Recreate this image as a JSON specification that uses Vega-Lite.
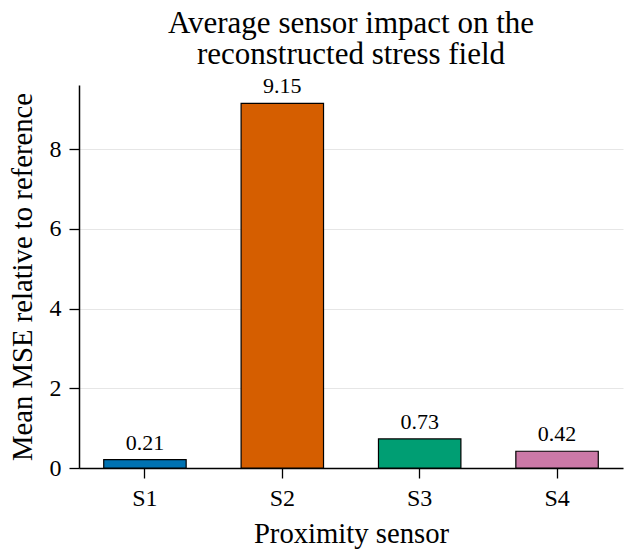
{
  "$schema": "https://vega.github.io/schema/vega-lite/v6.json",
  "autosize": "none",
  "width": 544,
  "height": 383,
  "padding": {"left": 79, "top": 85, "right": 10, "bottom": 88},
  "background": "white",
  "config": {
    "font": "Liberation Serif",
    "view": {"stroke": null},
    "title": {"font": "Liberation Serif", "fontSize": 31, "fontWeight": "normal", "color": "black", "lineHeight": 31, "baseline": "alphabetic", "offset": 4, "anchor": "middle"}
  },
  "title": {"text": ["Average sensor impact on the", "reconstructed stress field"]},
  "data": {
    "values": [
      {"sensor": "S1", "mse": 0.21},
      {"sensor": "S2", "mse": 9.15},
      {"sensor": "S3", "mse": 0.73},
      {"sensor": "S4", "mse": 0.42}
    ]
  },
  "encoding": {
    "x": {
      "field": "sensor",
      "type": "nominal",
      "scale": {"paddingInner": 0.4, "paddingOuter": 0.18},
      "axis": {
        "title": "Proximity sensor",
        "labelAngle": 0,
        "labelFont": "Liberation Serif",
        "labelFontSize": 24,
        "labelColor": "black",
        "labelBaseline": "alphabetic",
        "labelPadding": 27,
        "tickSize": 10,
        "tickColor": "black",
        "tickWidth": 1.3,
        "domainColor": "black",
        "domainWidth": 1.5,
        "titleFont": "Liberation Serif",
        "titleFontSize": 28.7,
        "titleFontWeight": "normal",
        "titleColor": "black",
        "titleBaseline": "alphabetic",
        "titleY": 74,
        "grid": false
      }
    },
    "y": {
      "field": "mse",
      "type": "quantitative",
      "scale": {"domain": [0, 9.61], "nice": false},
      "axis": {
        "title": "Mean MSE relative to reference",
        "values": [0, 2, 4, 6, 8],
        "labelFont": "Liberation Serif",
        "labelFontSize": 24,
        "labelColor": "black",
        "labelPadding": 8,
        "tickSize": 10,
        "tickColor": "black",
        "tickWidth": 1.3,
        "domainColor": "black",
        "domainWidth": 1.5,
        "gridColor": "#e6e6e6",
        "gridWidth": 1,
        "titleFont": "Liberation Serif",
        "titleFontSize": 28.7,
        "titleFontWeight": "normal",
        "titleColor": "black",
        "titleAngle": -90,
        "titleBaseline": "alphabetic",
        "titleX": -48,
        "titleY": 191.5
      }
    }
  },
  "layer": [
    {
      "mark": {"type": "bar", "stroke": "black", "strokeWidth": 1.2},
      "encoding": {
        "color": {
          "field": "sensor",
          "type": "nominal",
          "scale": {"domain": ["S1", "S2", "S3", "S4"], "range": ["#0072B2", "#D55E00", "#009E73", "#CC79A7"]},
          "legend": null
        }
      }
    },
    {
      "mark": {"type": "text", "font": "Liberation Serif", "baseline": "alphabetic", "dy": -10, "fontSize": 22, "color": "black"},
      "encoding": {"text": {"field": "mse", "type": "quantitative", "format": ".2f"}}
    }
  ]
}
